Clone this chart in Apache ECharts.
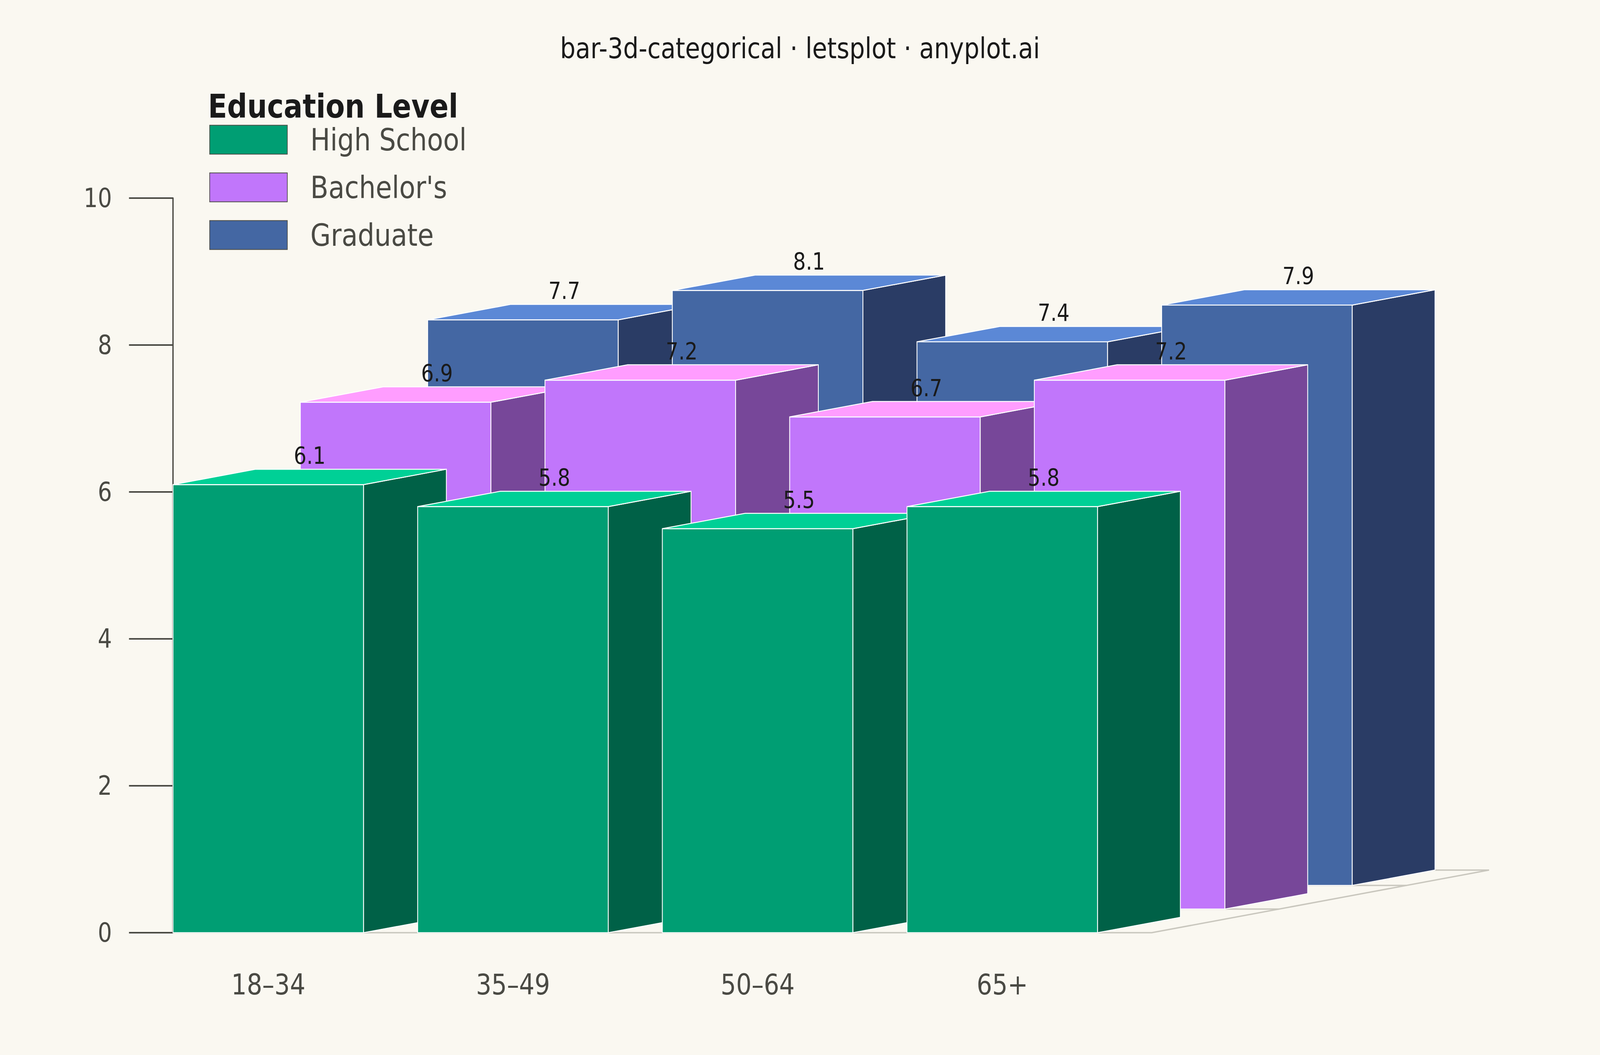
<!DOCTYPE html>
<html>
<head>
<meta charset="utf-8">
<script src="https://cdn.jsdelivr.net/npm/echarts@6/dist/echarts.min.js"></script>
<style>
html,body{margin:0;padding:0;background:#faf8f1;overflow:hidden;width:100%;height:100%;}
#wrap{position:fixed;left:0;top:0;width:100vw;height:100vh;overflow:hidden;}
#chart{position:absolute;left:0;top:0;width:4800px;height:2700px;transform-origin:0 0;}
</style>
</head>
<body>
<div id="wrap"><div id="chart"></div></div>
<script>
// ---- data ----
const categories = ['18–34', '35–49', '50–64', '65+'];
const seriesNames = ['High School', "Bachelor's", 'Graduate'];
const highSchool = [6.1, 5.8, 5.5, 5.8];
const bachelors = [6.9, 7.2, 6.7, 7.2];
const graduate = [7.7, 8.1, 7.4, 7.9];
const yTicks = [0, 2, 4, 6, 8, 10];

// ---- fit the 4800x2700 design into the actual viewport ----
const REF_W = 4800, REF_H = 2700;
const KX = window.innerWidth / REF_W, KY = window.innerHeight / REF_H;
document.getElementById('chart').style.transform = 'scale(' + KX + ',' + KY + ')';

// ---- styles ----
const FONT = 'DejaVu Sans';
const palette = [
  { front: '#009E73', top: '#00D096', side: '#006147' },
  { front: '#C176FB', top: '#FF9DFF', side: '#774799' },
  { front: '#4467A3', top: '#5B88D6', side: '#2A3C65' }
];
const BAR_W = 0.779;   // fraction of category band
const ROW_DX = 0.5204; // row depth offset x, fraction of band
const ROW_DY = 0.0824; // row depth offset y, fraction of band
const DEPTH = 0.65;    // bar depth as fraction of row offset
const EDGE = '#ffffff';

function barRenderer(row) {
  return function (params, api) {
    const ci = api.value(0);
    const v = api.value(1);
    const base = api.coord([ci, 0]);
    const topP = api.coord([ci, v]);
    const band = api.size([1, 0])[0];
    const rdx = band * ROW_DX, rdy = band * ROW_DY;
    const ox = row * rdx, oy = -row * rdy;
    const x0 = base[0] - band / 2 + ox;
    const x1 = x0 + band * BAR_W;
    const yb = base[1] + oy, yt = topP[1] + oy;
    const dx = rdx * DEPTH, dy = rdy * DEPTH;
    const c = palette[row];
    const stroke = { stroke: EDGE, lineWidth: 2.5, lineJoin: 'miter' };
    return {
      type: 'group',
      children: [
        { type: 'polygon', shape: { points: [[x0, yb], [x1, yb], [x1, yt], [x0, yt]] },
          style: Object.assign({ fill: c.front }, stroke) },
        { type: 'polygon', shape: { points: [[x1, yb], [x1 + dx, yb - dy], [x1 + dx, yt - dy], [x1, yt]] },
          style: Object.assign({ fill: c.side }, stroke) },
        { type: 'polygon', shape: { points: [[x0, yt], [x1, yt], [x1 + dx, yt - dy], [x0 + dx, yt - dy]] },
          style: Object.assign({ fill: c.top }, stroke) },
        { type: 'text', z2: 10,
          style: { text: v.toFixed(1), x: (x0 + x1) / 2 + dx / 2, y: yt - dy - 5,
                   align: 'center', verticalAlign: 'bottom', fill: '#1a1a1a',
                   fontSize: 60, fontFamily: FONT } }
      ]
    };
  };
}

function floorRenderer(params, api) {
  const n = categories.length;
  const p0 = api.coord([0, 0]);
  const pn = api.coord([n - 1, 0]);
  const band = api.size([1, 0])[0];
  const xl = p0[0] - band / 2, xr = pn[0] + band / 2, y = p0[1];
  const rdx = band * ROW_DX, rdy = band * ROW_DY;
  const rows = seriesNames.length;
  const d = (rows - 1) + DEPTH;
  const line = { stroke: '#c9c7be', lineWidth: 3.5, fill: null };
  const children = [
    { type: 'polygon', shape: { points: [[xl, y], [xr, y], [xr + d * rdx, y - d * rdy], [xl + d * rdx, y - d * rdy]] },
      style: Object.assign({}, line) }
  ];
  for (let r = 1; r < rows; r++) {
    children.push({ type: 'polyline', shape: { points: [[xl + r * rdx, y - r * rdy], [xr + r * rdx, y - r * rdy]] },
      style: Object.assign({}, line) });
  }
  return { type: 'group', children };
}

const rowsData = [highSchool, bachelors, graduate];
const series = [{
  type: 'custom', name: 'floor', renderItem: floorRenderer, clip: false,
  data: [[0, 0]], silent: true, legendHoverLink: false
}];
for (let r = rowsData.length - 1; r >= 0; r--) {
  series.push({
    type: 'custom', name: seriesNames[r], renderItem: barRenderer(r), clip: false,
    itemStyle: { color: palette[r].front },
    data: rowsData[r].map((v, i) => [i, v])
  });
}

const chart = echarts.init(document.getElementById('chart'), null, { renderer: 'svg', width: REF_W, height: REF_H });
chart.setOption({
  backgroundColor: '#faf8f1',
  animation: false,
  title: [
    { text: 'bar-3d-categorical · letsplot · anyplot.ai', left: 'center', top: 84, padding: 0,
      textStyle: { fontFamily: FONT, fontSize: 73, fontWeight: 'normal', color: '#1a1a1a', lineHeight: 80 } },
    { text: 'Education Level', left: 624, top: 234, padding: 0,
      textStyle: { fontFamily: FONT, fontSize: 84, fontWeight: 'bold', color: '#1a1a1a', lineHeight: 76 } }
  ],
  legend: {
    data: seriesNames, orient: 'vertical', left: 628, top: 318, padding: 0,
    itemWidth: 233, itemHeight: 74, itemGap: 43, icon: 'rect',
    itemStyle: { borderColor: '#4a4a44', borderWidth: 2 },
    textStyle: { fontFamily: FONT, fontSize: 79, color: '#4a4a44', lineHeight: 60, padding: [0, 0, 0, 64] },
    selectedMode: false
  },
  grid: { left: 519, right: 1345, top: 507, bottom: 313, containLabel: false },
  xAxis: {
    type: 'category', data: categories, boundaryGap: true,
    axisLine: { show: false }, axisTick: { show: false }, splitLine: { show: false },
    axisLabel: { fontFamily: FONT, fontSize: 73, color: '#4a4a44', margin: 96, padding: [0, 162, 0, 0] }
  },
  yAxis: {
    type: 'value', min: yTicks[0], max: yTicks[yTicks.length - 1], interval: yTicks[1] - yTicks[0],
    axisLine: { show: true, lineStyle: { color: '#4a4a44', width: 4 } },
    axisTick: { show: true, length: 132, lineStyle: { color: '#4a4a44', width: 4 } },
    splitLine: { show: false },
    axisLabel: { fontFamily: FONT, fontSize: 67, color: '#4a4a44', margin: 183 }
  },
  series: series
});
</script>
</body>
</html>
